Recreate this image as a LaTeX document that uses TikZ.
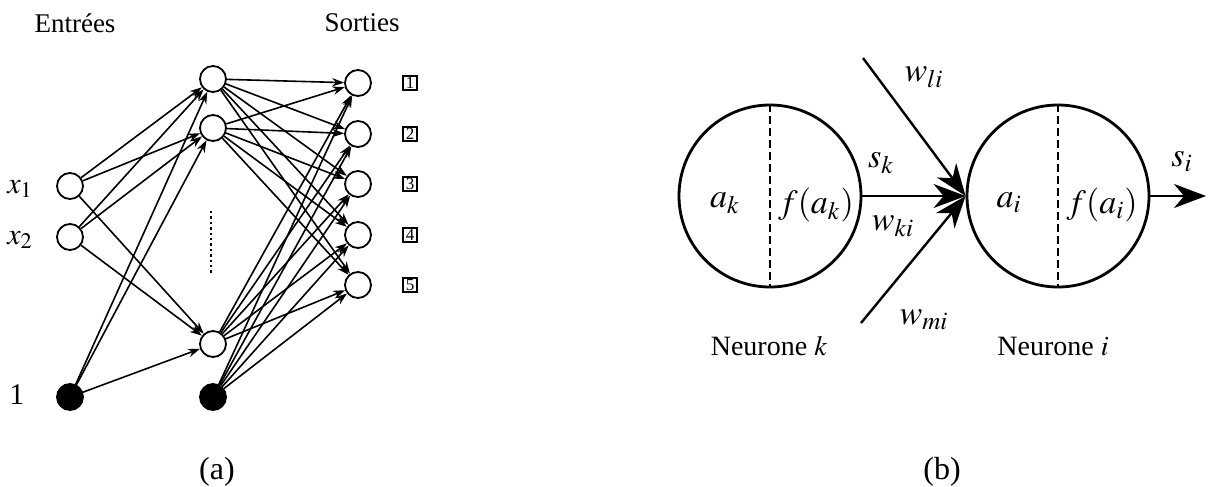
\documentclass[tikz,border=0pt]{standalone}
\usepackage{mathptmx}
\usepackage{fontspec}
\setmainfont{Liberation Serif}
\usetikzlibrary{arrows.meta}

\begin{document}
\begin{tikzpicture}[x=0.5pt,y=-0.5pt,>={Stealth[length=6pt,width=4.2pt]},
	neuron/.style={circle,draw,line width=0.9pt,minimum size=13pt,inner sep=0pt},
	biasneuron/.style={neuron,fill=black},
	outbox/.style={draw,line width=0.7pt,inner sep=0pt,minimum size=7pt,font=\fontsize{8.5}{8.5}\selectfont},
	cell/.style={circle,draw,line width=1.4pt,minimum size=91pt,inner sep=0pt},
	bigarrow/.style={-{Stealth[length=16pt,width=12pt,inset=5pt]},line width=1.2pt},
	lbl/.style={font=\fontsize{17}{17}\selectfont}]
			\useasboundingbox (0,0) rectangle (1217,487);
			% (a) reseau multicouche
			\node[font=\fontsize{13.5}{13.5}\selectfont] (tin) at (75,23) {Entrées};
			\node[font=\fontsize{13.5}{13.5}\selectfont] (tout) at (362,23) {Sorties};
			\node[neuron] (x1) at (70,186) {};
			\node[neuron] (x2) at (70,237) {};
			\node[biasneuron] (b1) at (70,397) {};
			\node[font=\fontsize{15}{15}\selectfont] (lx1) at (20,189) {$x_1$};
			\node[font=\fontsize{15}{15}\selectfont] (lx2) at (20,240) {$x_2$};
			\node[font=\fontsize{15}{15}\selectfont] (lb1) at (17,395) {1};
			\node[neuron] (h1) at (213,79) {};
			\node[neuron] (h2) at (213,128) {};
			\node[neuron] (h3) at (213,344) {};
			\node[biasneuron] (hb) at (213,397) {};
			\draw[line width=1.4pt,dash pattern=on 1.2pt off 1.5pt] (211,211) -- (211,273);
			\foreach \i/\y in {1/83,2/134,3/184,4/235,5/285}{
				\node[neuron] (o\i) at (358,\y) {};
				\node[outbox] (n\i) at (410,\y) {\i};
			}
			\foreach \s in {x1,x2,b1}
				\foreach \t in {h1,h2,h3}
					\draw[->,line width=0.8pt] (\s) -- (\t);
			\foreach \s in {h1,h2,h3,hb}
				\foreach \t in {o1,o2,o3,o4,o5}
					\draw[->,line width=0.8pt] (\s) -- (\t);
			\node[font=\fontsize{16}{16}\selectfont] (capa) at (217,472) {(a)};
			% (b) deux neurones
			\node[cell] (nk) at (770,196) {};
			\node[cell] (ni) at (1058,196) {};
			\draw[line width=1.3pt,dash pattern=on 4pt off 2pt] (nk.north) -- (nk.south);
			\draw[line width=1.3pt,dash pattern=on 4pt off 2pt] (ni.north) -- (ni.south);
			\node[lbl] (ak) at (725,203) {$a_k$};
			\node[lbl] (fak) at (816,205) {$f(a_k)$};
			\node[lbl] (ai) at (1009,203) {$a_i$};
			\node[lbl] (fai) at (1102,205) {$f(a_i)$};
			\coordinate (li) at (863,58);
			\coordinate (mi) at (861,323);
			\coordinate (siend) at (1206,196);
			\draw[bigarrow] (nk.east) -- (ni.west);
			\draw[bigarrow] (li) -- (ni.west);
			\draw[bigarrow] (mi) -- (ni.west);
			\draw[bigarrow] (ni.east) -- (siend);
			\node[lbl] (sk) at (881,163) {$s_k$};
			\node[lbl] (wki) at (893,226) {$w_{ki}$};
			\node[lbl] (wli) at (924,77) {$w_{li}$};
			\node[lbl] (wmi) at (924,320) {$w_{mi}$};
			\node[lbl] (si) at (1182,162) {$s_i$};
			\node[font=\fontsize{14}{14}\selectfont] (tk) at (769,346) {Neurone $k$};
			\node[font=\fontsize{14}{14}\selectfont] (ti) at (1053,346) {Neurone $i$};
			\node[font=\fontsize{16}{16}\selectfont] (capb) at (942,472) {(b)};
		\end{tikzpicture}
\end{document}
